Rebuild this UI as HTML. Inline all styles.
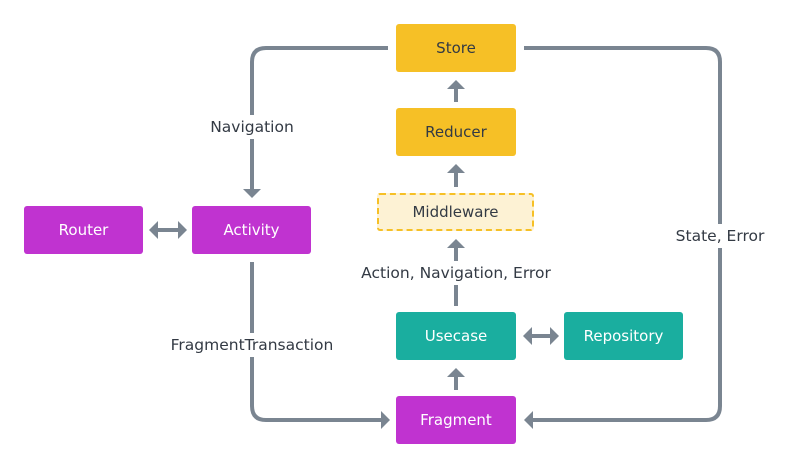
<!DOCTYPE html><html><head><style>
body{margin:0;width:793px;height:468px;background:#fff;font-family:"DejaVu Sans","Liberation Sans",sans-serif;}
.b{position:absolute;display:flex;align-items:center;justify-content:center;font-size:15px;border-radius:3px;}
.y{background:#f6c026;color:#333a44}.p{background:#c033d0;color:#fff}.t{background:#1aae9f;color:#fff}
.l{position:absolute;font-size:15.5px;color:#333a44;background:#fff;white-space:nowrap;transform:translate(-50%,-50%)}
</style></head><body>
<svg width="793" height="468" style="position:absolute;left:0;top:0" fill="none" stroke="#7a8591" stroke-width="4">
<path d="M388 48 H266 Q252 48 252 62 V190"/>
<path d="M524 48 H706 Q720 48 720 62 V406 Q720 420 706 420 H532"/>
<path d="M252 262 V406 Q252 420 266 420 H382"/>
<path d="M456 102 V86 M456 187 V170 M456 306 V245 M456 390 V374"/>
<path d="M158 230 H178 M532 336 H550"/>
<g fill="#7a8591" stroke="none">
<path d="M243 189 L261 189 L252 198Z"/>
<path d="M533 411 L533 429 L524 420Z"/>
<path d="M381 411 L381 429 L390 420Z"/>
<path d="M447 89 L465 89 L456 80Z"/><path d="M447 173 L465 173 L456 164Z"/>
<path d="M447 248 L465 248 L456 239Z"/><path d="M447 377 L465 377 L456 368Z"/>
<path d="M158 221 L158 239 L149 230Z"/><path d="M178 221 L178 239 L187 230Z"/>
<path d="M532 327 L532 345 L523 336Z"/><path d="M550 327 L550 345 L559 336Z"/>
</g></svg>
<div class="b y" style="left:396px;top:24px;width:120px;height:48px">Store</div>
<div class="b y" style="left:396px;top:108px;width:120px;height:48px">Reducer</div>
<div class="b" style="left:377px;top:193px;width:153px;height:34px;background:#fdf2d4;border:2px dashed #f6c026;color:#333a44">Middleware</div>
<div class="b p" style="left:24px;top:206px;width:119px;height:48px">Router</div>
<div class="b p" style="left:192px;top:206px;width:119px;height:48px">Activity</div>
<div class="b t" style="left:396px;top:312px;width:120px;height:48px">Usecase</div>
<div class="b t" style="left:564px;top:312px;width:119px;height:48px">Repository</div>
<div class="b p" style="left:396px;top:396px;width:120px;height:48px">Fragment</div>
<div class="l" style="left:252px;top:127px;padding:3px 0">Navigation</div>
<div class="l" style="left:720px;top:236px;padding:3px 0">State, Error</div>
<div class="l" style="left:252px;top:345px;padding:3px 0">FragmentTransaction</div>
<div class="l" style="left:456px;top:273px;padding:3px 0">Action, Navigation, Error</div>
</body></html>
